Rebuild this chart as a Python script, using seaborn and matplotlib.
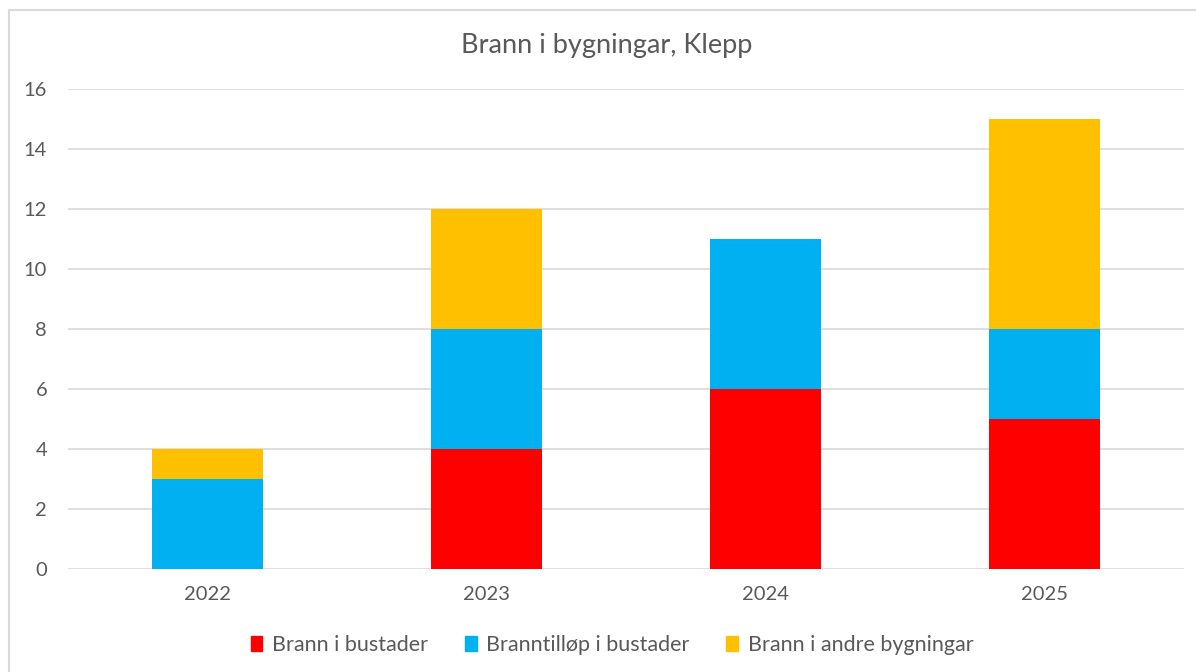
import pandas as pd
import seaborn as sns
import matplotlib.pyplot as plt
from matplotlib.patches import Rectangle, Patch

years = ['2022', '2023', '2024', '2025']
brann_bustader = [0, 4, 6, 5]
branntillop = [3, 4, 5, 3]
brann_andre = [1, 4, 0, 7]

labels = ['Brann i bustader', 'Branntilløp i bustader', 'Brann i andre bygningar']
colors = ['#FF0000', '#00B0F0', '#FFC000']

df = pd.DataFrame({'year': years, 'red': brann_bustader,
                   'blue': branntillop, 'yellow': brann_andre})
# cumulative heights, drawn back to front
df['c_blue'] = df['red'] + df['blue']
df['c_yellow'] = df['c_blue'] + df['yellow']

sns.set_style('white')
plt.rcParams['font.family'] = ['Lato', 'DejaVu Sans']

fig = plt.figure(figsize=(11.96, 6.72), dpi=100)
ax = fig.add_axes([68 / 1196, 1 - 569 / 672, 1116 / 1196, 480 / 672])

sns.barplot(data=df, x='year', y='c_yellow', color=colors[2], width=0.4, ax=ax, saturation=1)
sns.barplot(data=df, x='year', y='c_blue', color=colors[1], width=0.4, ax=ax, saturation=1)
sns.barplot(data=df, x='year', y='red', color=colors[0], width=0.4, ax=ax, saturation=1)
for p in ax.patches:
    p.set_linewidth(0)

ax.set_ylim(0, 16)
ax.set_xlim(-0.5, 3.5)
ax.set_yticks(range(0, 17, 2))
ax.yaxis.grid(True, color='#D9D9D9', linewidth=1.2)
ax.set_axisbelow(True)
for s in ax.spines.values():
    s.set_visible(False)
ax.set_xlabel('')
ax.set_ylabel('')
ax.tick_params(axis='both', length=0, labelsize=14.5, labelcolor='#595959')
ax.tick_params(axis='y', pad=15)
ax.tick_params(axis='x', pad=12)

fig.text(607 / 1196, 1 - 45 / 672, 'Brann i bygningar, Klepp', ha='center', va='center',
         fontsize=19.5, color='#595959')

handles = [Patch(color=c) for c in colors]
fig.legend(handles, labels, loc='center', bbox_to_anchor=(612 / 1196, 1 - 645 / 672), ncol=3,
           frameon=False, fontsize=15.5, labelcolor='#595959', handlelength=0.55,
           handleheight=0.65, handletextpad=0.45, columnspacing=1.7)

fig.patches.append(Rectangle((9 / 1196, -0.1), 1.2, 1 - 10 / 672 + 0.1,
                             transform=fig.transFigure, fill=False,
                             edgecolor='#D9D9D9', linewidth=1.5))

fig.savefig('out.png', dpi=100)
